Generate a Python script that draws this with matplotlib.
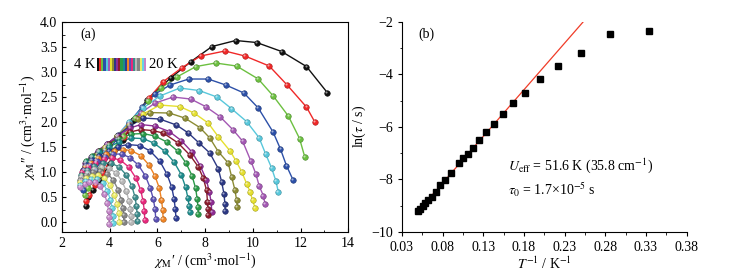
import matplotlib
matplotlib.use("Agg")
import matplotlib.pyplot as plt
import numpy as np
from matplotlib.ticker import MultipleLocator, FormatStrFormatter
from matplotlib.colors import to_rgb
from matplotlib.transforms import offset_copy

plt.rcParams['font.family'] = ['Liberation Serif', 'DejaVu Serif']
plt.rcParams['mathtext.fontset'] = 'stix'
plt.rcParams['font.size'] = 10

#%% data, panel (a): Cole-Cole plots, 4 K -> 20 K
colors = ['#111111', '#f02828', '#6cc040', '#2c50a8', '#58c8dc', '#a458b4',
          '#e6e030', '#8c8c34', '#2c3884', '#8e2c94', '#8c1c2c', '#2a9a48',
          '#1c8c8c', '#2c3c94', '#f08424', '#5a50b4', '#e8287c', '#3c8c8c',
          '#b8b8b8', '#848484', '#ecec64', '#64d4e4', '#c484c8']

chi1 = [
    [3.02, 3.10, 3.31, 3.59, 4.01, 4.57, 4.99, 5.55, 6.55, 7.41, 8.29, 9.28, 10.16, 11.21, 12.25, 13.12],
    [3.0, 3.15, 3.4, 3.7, 4.1, 4.6, 5.1, 5.65, 6.25, 7.04, 7.81, 8.83, 9.67, 10.69, 11.44, 12.25, 12.59],
    [2.95, 3.1, 3.35, 3.65, 4.05, 4.55, 5.05, 5.6, 6.15, 6.81, 7.62, 8.44, 9.32, 10.23, 10.86, 11.49, 11.96, 12.18],
    [2.9, 3.1, 3.4, 3.8, 4.3, 4.8, 5.35, 5.9, 6.53, 7.31, 8.13, 8.87, 9.63, 10.23, 10.85, 11.16, 11.41, 11.69],
    [2.85, 3.1, 3.4, 3.8, 4.3, 4.8, 5.4, 6.1, 6.94, 7.75, 8.50, 9.10, 9.74, 10.26, 10.54, 10.79, 10.97, 11.07],
    [2.85, 3.1, 3.4, 3.8, 4.3, 4.8, 5.3, 5.9, 6.66, 7.40, 8.02, 8.62, 9.18, 9.57, 9.92, 10.13, 10.27, 10.44, 10.51],
    [2.85, 3.1, 3.4, 3.8, 4.3, 4.8, 5.4, 6.11, 6.94, 7.54, 8.13, 8.55, 9.05, 9.3, 9.53, 9.74, 9.88, 9.99, 10.09],
    [2.9, 3.15, 3.45, 3.85, 4.3, 4.8, 5.2, 5.69, 6.5, 7.15, 7.78, 8.2, 8.55, 8.97, 9.11, 9.25, 9.32, 9.35],
    [2.95, 3.2, 3.5, 3.9, 4.35, 4.85, 5.41, 6.1, 6.8, 7.3, 7.75, 8.2, 8.55, 8.69, 8.79, 8.83, 8.84],
    [2.95, 3.2, 3.5, 3.9, 4.35, 4.85, 5.3, 5.9, 6.5, 7.0, 7.45, 7.8, 8.05, 8.18, 8.25, 8.28],
    [3.0, 3.25, 3.55, 3.95, 4.4, 4.85, 5.3, 5.8, 6.25, 6.87, 7.36, 7.71, 7.92, 8.06, 8.1, 8.12, 8.13],
    [3.0, 3.25, 3.55, 3.95, 4.4, 4.9, 5.4, 5.9, 6.4, 6.85, 7.2, 7.45, 7.6, 7.67, 7.7, 7.71],
    [3.0, 3.25, 3.55, 3.95, 4.4, 4.9, 5.4, 5.85, 6.3, 6.7, 7.0, 7.18, 7.28, 7.33, 7.35],
    [3.0, 3.25, 3.55, 3.95, 4.35, 4.75, 5.27, 5.7, 6.1, 6.4, 6.6, 6.7, 6.75, 6.78],
    [2.95, 3.2, 3.5, 3.85, 4.2, 4.55, 4.9, 5.3, 5.65, 5.9, 6.08, 6.17, 6.22, 6.24],
    [2.9, 3.15, 3.45, 3.8, 4.15, 4.5, 4.85, 5.2, 5.5, 5.7, 5.83, 5.9, 5.93],
    [2.85, 3.1, 3.4, 3.75, 4.1, 4.45, 4.8, 5.1, 5.3, 5.4, 5.45, 5.47],
    [2.8, 3.05, 3.35, 3.7, 4.05, 4.4, 4.7, 4.93, 5.06, 5.12, 5.15, 5.16],
    [2.8, 3.05, 3.35, 3.65, 3.95, 4.25, 4.5, 4.7, 4.8, 4.86, 4.89, 4.9],
    [2.75, 3.0, 3.3, 3.6, 3.9, 4.15, 4.35, 4.48, 4.55, 4.58, 4.6],
    [2.75, 3.0, 3.25, 3.5, 3.78, 4.02, 4.2, 4.31, 4.37, 4.4],
    [2.75, 2.98, 3.2, 3.45, 3.7, 3.9, 4.03, 4.1, 4.14, 4.15],
    [2.75, 2.95, 3.15, 3.38, 3.6, 3.78, 3.9, 3.95, 3.97, 3.98],
]
chi2 = [
    [0.32, 0.51, 0.64, 0.84, 1.17, 1.64, 2.04, 2.44, 2.88, 3.21, 3.51, 3.63, 3.59, 3.41, 3.11, 2.59],
    [0.42, 0.55, 0.75, 0.98, 1.3, 1.7, 2.08, 2.48, 2.81, 3.09, 3.32, 3.42, 3.32, 3.12, 2.74, 2.30, 2.01],
    [0.55, 0.68, 0.86, 1.08, 1.38, 1.73, 2.08, 2.43, 2.68, 2.90, 3.11, 3.18, 3.12, 2.86, 2.52, 2.12, 1.67, 1.30],
    [0.65, 0.82, 1.05, 1.33, 1.66, 1.98, 2.3, 2.56, 2.74, 2.86, 2.86, 2.74, 2.58, 2.28, 1.80, 1.46, 1.13, 0.84],
    [0.75, 0.98, 1.2, 1.45, 1.72, 2.0, 2.28, 2.52, 2.68, 2.63, 2.50, 2.27, 2.01, 1.69, 1.36, 1.08, 0.82, 0.60],
    [0.85, 1.05, 1.25, 1.48, 1.72, 1.96, 2.18, 2.38, 2.50, 2.46, 2.31, 2.11, 1.84, 1.62, 1.22, 0.96, 0.72, 0.53, 0.37],
    [0.95, 1.12, 1.3, 1.5, 1.72, 1.94, 2.16, 2.34, 2.31, 2.18, 1.98, 1.71, 1.42, 1.22, 1.01, 0.77, 0.61, 0.44, 0.29],
    [1.05, 1.2, 1.36, 1.53, 1.72, 1.92, 2.06, 2.19, 2.18, 2.08, 1.89, 1.68, 1.41, 1.18, 0.91, 0.64, 0.44, 0.31],
    [1.12, 1.25, 1.4, 1.56, 1.74, 1.92, 2.08, 2.06, 1.94, 1.78, 1.58, 1.38, 1.07, 0.81, 0.57, 0.37, 0.22],
    [1.18, 1.3, 1.43, 1.57, 1.73, 1.88, 1.95, 1.92, 1.81, 1.63, 1.40, 1.12, 0.85, 0.6, 0.4, 0.21],
    [1.2, 1.31, 1.43, 1.56, 1.69, 1.80, 1.85, 1.83, 1.78, 1.58, 1.34, 1.11, 0.88, 0.64, 0.41, 0.26, 0.14],
    [1.22, 1.32, 1.43, 1.55, 1.67, 1.76, 1.77, 1.72, 1.6, 1.42, 1.18, 0.93, 0.68, 0.46, 0.3, 0.17],
    [1.2, 1.3, 1.4, 1.5, 1.6, 1.68, 1.67, 1.58, 1.42, 1.2, 0.95, 0.7, 0.48, 0.32, 0.2],
    [1.15, 1.24, 1.33, 1.43, 1.51, 1.55, 1.53, 1.42, 1.22, 0.96, 0.7, 0.46, 0.26, 0.08],
    [1.1, 1.19, 1.28, 1.36, 1.42, 1.45, 1.43, 1.33, 1.14, 0.92, 0.68, 0.45, 0.25, 0.07],
    [1.05, 1.14, 1.23, 1.31, 1.36, 1.36, 1.29, 1.14, 0.92, 0.68, 0.46, 0.26, 0.07],
    [1.0, 1.1, 1.19, 1.26, 1.28, 1.24, 1.1, 0.88, 0.64, 0.42, 0.23, 0.05],
    [0.95, 1.05, 1.13, 1.18, 1.18, 1.1, 0.94, 0.72, 0.5, 0.32, 0.17, 0.03],
    [0.9, 0.99, 1.06, 1.1, 1.08, 0.99, 0.83, 0.62, 0.43, 0.27, 0.13, 0.0],
    [0.85, 0.94, 1.0, 1.02, 0.97, 0.84, 0.65, 0.45, 0.28, 0.14, 0.0],
    [0.8, 0.88, 0.93, 0.94, 0.88, 0.74, 0.55, 0.36, 0.18, 0.0],
    [0.75, 0.82, 0.86, 0.86, 0.79, 0.63, 0.45, 0.28, 0.13, -0.02],
    [0.7, 0.77, 0.81, 0.8, 0.72, 0.56, 0.38, 0.22, 0.1, -0.04],
]

#%% data, panel (b): Arrhenius plot
T = [20, 19, 18, 17, 16, 15, 14, 13, 12, 11, 10, 9.5, 9, 8.5, 8, 7.5, 7, 6.5, 6, 5.5, 5, 4.5, 4, 3.5, 3]
ln_tau = [-9.21, -9.12, -9.02, -8.91, -8.79, -8.67, -8.50, -8.23, -8.01, -7.75, -7.37, -7.18,
          -7.02, -6.80, -6.50, -6.20, -5.89, -5.53, -5.11, -4.70, -4.18, -3.70, -3.18, -2.48, -2.37]
fit_x = [0.048, 0.253]
fit_y = [-9.28, -2.0]
xticks_b = [0.03, 0.08, 0.13, 0.18, 0.23, 0.28, 0.33, 0.38]

#%%
fig = plt.figure(figsize=(7.32, 2.75), dpi=100)

ax1 = fig.add_axes([0.0847, 0.156, 0.391, 0.764])
# little highlight spot on each ball, shifted up-left
shine = offset_copy(ax1.transData, fig=fig, x=-0.6, y=0.6, units='points')
for c, xs, ys in zip(colors, chi1, chi2):
    rgb = to_rgb(c)
    ax1.plot(xs, ys, '-', color=c, lw=1.0, zorder=2)
    ax1.plot(xs, ys, 'o', color=c, ms=4.0, mec=tuple(0.7 * v for v in rgb), mew=0.4, zorder=3)
    ax1.plot(xs, ys, 'o', color=tuple(0.55 + 0.45 * v for v in rgb), ms=1.5, mew=0,
             transform=shine, zorder=4)

ax1.set_xlim(2, 14)
ax1.set_ylim(-0.2, 4.0)
ax1.xaxis.set_major_locator(MultipleLocator(2))
ax1.xaxis.set_minor_locator(MultipleLocator(1))
ax1.yaxis.set_major_locator(MultipleLocator(0.5))
ax1.yaxis.set_minor_locator(MultipleLocator(0.25))
ax1.yaxis.set_major_formatter(FormatStrFormatter('%.1f'))
ax1.tick_params(which='both', direction='in')
ax1.tick_params(which='major', length=3)
ax1.tick_params(which='minor', length=1.8)
ax1.set_xlabel(r"$\chi_\mathrm{M}$′ / (cm$^3$·mol$^{-1}$)", labelpad=1)
ax1.set_ylabel(r"$\chi_\mathrm{M}$″ / (cm$^3$·mol$^{-1}$)", labelpad=2)
ax1.text(0.063, 0.94, '(a)', transform=ax1.transAxes, ha='left', va='center')

# temperature stripe legend
ax1.text(0.115, 0.798, '4 K', transform=ax1.transAxes, ha='right', va='center', fontsize=10.5)
ax1.text(0.305, 0.798, '20 K', transform=ax1.transAxes, ha='left', va='center', fontsize=10.5)
strip = ax1.inset_axes([0.121, 0.768, 0.169, 0.061])
strip.imshow(np.array([[to_rgb(c) for c in colors]]), aspect='auto', interpolation='nearest')
strip.set_axis_off()

#%%
ax2 = fig.add_axes([0.549, 0.157, 0.389, 0.764])
ax2.plot(1 / np.array(T), ln_tau, 's', color='black', ms=4.3, zorder=3)
ax2.plot(fit_x, fit_y, '-', color='#f03c28', lw=0.9, zorder=2)
ax2.set_xlim(0.03, 0.38)
ax2.set_ylim(-10, -2)
ax2.spines['top'].set_visible(False)
ax2.spines['right'].set_visible(False)
ax2.set_xticks(xticks_b)
ax2.xaxis.set_minor_locator(MultipleLocator(0.025, offset=0.005))
ax2.xaxis.set_major_formatter(FormatStrFormatter('%.2f'))
ax2.yaxis.set_major_locator(MultipleLocator(2))
ax2.yaxis.set_minor_locator(MultipleLocator(1))
ax2.tick_params(which='both', direction='out')
ax2.tick_params(which='major', length=3)
ax2.tick_params(which='minor', length=1.8)
ax2.set_xlabel(r"$T^{-1}$ / K$^{-1}$", labelpad=1)
ax2.set_ylabel(r"ln($\tau$ / s)", labelpad=2)
ax2.text(0.0505, -2.48, '(b)', ha='left', va='center')
ax2.text(0.16, -7.49, r"$U_\mathrm{eff}$ = 51.6 K (35.8 cm$^{-1}$)", ha='left', va='center')
ax2.text(0.16, -8.39, r"$\tau_0$ = 1.7×10$^{-5}$ s", ha='left', va='center')

fig.savefig('out.png', dpi=100)
